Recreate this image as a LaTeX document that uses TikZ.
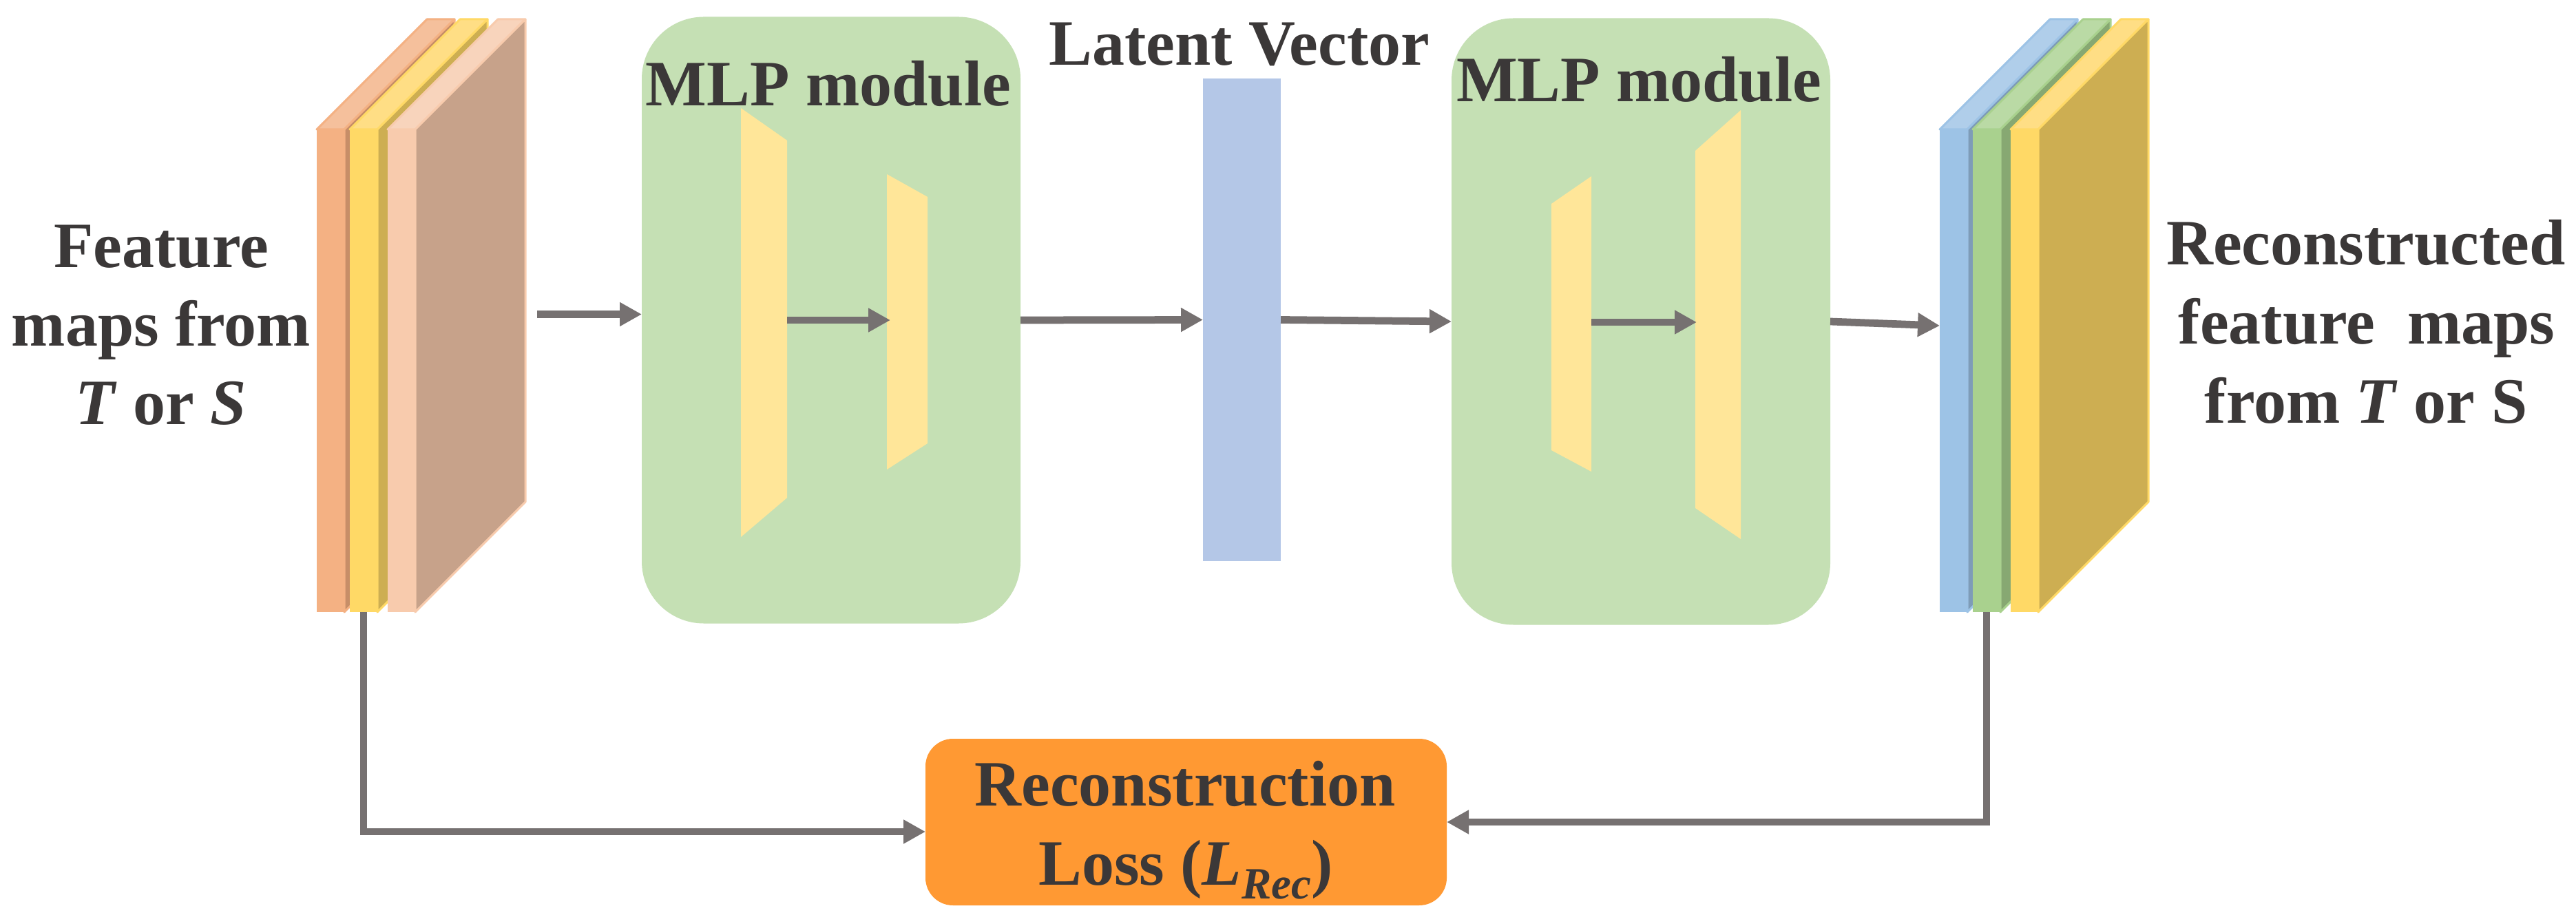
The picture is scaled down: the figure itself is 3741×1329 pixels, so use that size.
\documentclass[tikz,border=0pt]{standalone}
\usepackage{fontspec}
\setmainfont{Liberation Serif}
\usetikzlibrary{arrows.meta}
\definecolor{textc}{HTML}{3B3838}
\definecolor{arrowc}{HTML}{767171}
\definecolor{mlpgreen}{HTML}{C5E0B4}
\definecolor{trapy}{HTML}{FFE699}
\definecolor{latentc}{HTML}{B4C7E7}
\definecolor{lossc}{HTML}{FF9933}
% feature map layer colours: front / top / side
\definecolor{orF}{HTML}{F4B183}\definecolor{orT}{HTML}{F5C09C}\definecolor{orS}{HTML}{C78E68}
\definecolor{yeF}{HTML}{FFD966}\definecolor{yeT}{HTML}{FFDE85}\definecolor{yeS}{HTML}{CDAE52}
\definecolor{peF}{HTML}{F8CBAD}\definecolor{peT}{HTML}{F8D4BC}\definecolor{peS}{HTML}{C7A28A}
\definecolor{blF}{HTML}{9DC3E6}\definecolor{blT}{HTML}{B0CEEA}\definecolor{blS}{HTML}{7E9CB8}
\definecolor{grF}{HTML}{A9D18E}\definecolor{grT}{HTML}{BADAA5}\definecolor{grS}{HTML}{87A872}
\newcommand{\fmlayer}[5]{% name, left x, front, top, side
  \filldraw[fill=#4, draw=#3, line width=0.6pt, line join=round] (#2,188) -- ++(160,-160) -- ++(40,0) -- ++(-160,160) -- cycle;
  \filldraw[fill=#5, draw=#3, line width=0.6pt, line join=round] (#2+40,188) -- ++(160,-160) -- ++(0,701) -- ++(-160,160) -- cycle;
  \node[fmfront, fill=#3] (#1) at (#2+20,538.5) {};
}
\begin{document}
\begin{tikzpicture}[x=0.2pt,y=-0.2pt,
  lbl/.style={font=\fontsize{18.8pt}{22.8pt}\selectfont\bfseries, text=textc, inner sep=0pt, anchor=base},
  arr/.style={draw=arrowc, line width=2.15pt, -{Triangle[length=6.4pt,width=6.6pt]}},
  conn/.style={draw=arrowc, line width=2.15pt},
  fmfront/.style={draw=none, minimum width=8pt, minimum height=140.2pt, inner sep=0pt, outer sep=0pt},
  mlpbox/.style={fill=mlpgreen, rounded corners=18pt, minimum width=110pt, minimum height=176.2pt, inner sep=0pt, outer sep=0pt},
  trap/.style={fill=trapy}
]
\useasboundingbox[fill=white] (0,0) rectangle (3741,1329);

% ---------- left feature maps ----------
\fmlayer{L1}{460}{orF}{orT}{orS}
\fmlayer{L2}{508}{yeF}{yeT}{yeS}
\fmlayer{L3}{563}{peF}{peT}{peS}

% ---------- right feature maps ----------
\fmlayer{R1}{2817}{blF}{blT}{blS}
\fmlayer{R2}{2865}{grF}{grT}{grS}
\fmlayer{R3}{2920}{yeF}{yeT}{yeS}

% ---------- MLP modules ----------
\node[mlpbox] (mlp1) at (1207,465) {};
\node[mlpbox] (mlp2) at (2383,467) {};
\node[lbl] (mlp1t) at (1203,154) {MLP module};
\node[lbl] (mlp2t) at (2380,148) {MLP module};

\fill[trap] (1076,157) -- (1143,204) -- (1143,723) -- (1076,780) -- cycle;
\fill[trap] (1288,253) -- (1347,286) -- (1347,644) -- (1288,682) -- cycle;
\fill[trap] (2253,296) -- (2311,256) -- (2311,685) -- (2253,654) -- cycle;
\fill[trap] (2462,219) -- (2528,160) -- (2528,783) -- (2462,738) -- cycle;
\coordinate (m1a) at (1143,465);
\coordinate (m1b) at (1293,465);
\coordinate (m2a) at (2311,468);
\coordinate (m2b) at (2464,468);
\draw[arr] (m1a) -- (m1b);
\draw[arr] (m2a) -- (m2b);

% ---------- latent vector ----------
\node[fill=latentc, minimum width=22.6pt, minimum height=140.2pt, inner sep=0pt, outer sep=0pt] (lat) at (1803.5,464.5) {};
\node[lbl] (latt) at (1800,95) {Latent Vector};

% ---------- loss ----------
\node[fill=lossc, rounded corners=8pt, minimum width=151.4pt, minimum height=48.4pt, inner sep=0pt, outer sep=0pt] (loss) at (1722.5,1194) {};
\node[lbl] (lossa) at (1721,1170) {Reconstruction};
\node[lbl] (lossb) at (1722,1285) {Loss (\textit{L}\raisebox{-4pt}{\fontsize{13pt}{13pt}\selectfont\textit{Rec}})};

% ---------- side labels ----------
\node[lbl] (la) at (234,389) {Feature};
\node[lbl] (lb) at (234,503) {maps from};
\node[lbl] (lc) at (234,617) {\textit{T} or \textit{S}};
\node[lbl] (ra) at (3436,385) {Reconstructed};
\node[lbl] (rb) at (3437,500) {feature~~maps};
\node[lbl] (rc) at (3436,615) {from \textit{T} or S};

% ---------- connectors ----------
\coordinate (inStart) at (780,456.5);
\draw[arr] (inStart) -- (mlp1.west |- inStart);
\draw[arr] (mlp1.east) -- (lat.west);
\draw[arr] (lat.east) -- (mlp2.west);
\draw[arr] (mlp2.east) -- (R1.west |- 0,473);
\draw[arr] (L2.south) |- ([yshift=-2.8pt]loss.west);
\draw[arr] (R2.south) |- (loss.east);
\end{tikzpicture}
\end{document}
